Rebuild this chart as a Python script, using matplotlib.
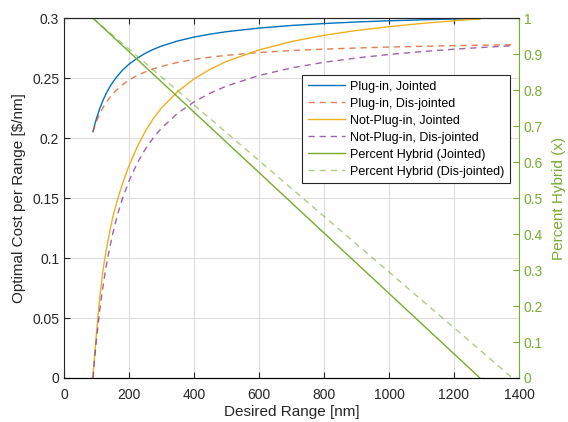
#!/usr/bin/env python3
import matplotlib
matplotlib.use("Agg")
import matplotlib.pyplot as plt

plt.rcParams['font.family'] = ['Liberation Sans', 'DejaVu Sans']

# values (desired range in nm)
rng = [89, 95, 100, 110, 120, 130, 140, 150, 165, 180, 200, 225, 250, 275, 300,
       350, 400, 450, 500, 600, 700, 800, 900, 1000, 1100, 1200, 1280]
rng_long = rng[:-1] + [1300, 1382]

plug_j = [0.2053, 0.2117, 0.2165, 0.2247, 0.2315, 0.2373, 0.2423, 0.2466, 0.2520, 0.2566,
          0.2616, 0.2666, 0.2707, 0.2740, 0.2767, 0.2810, 0.2842, 0.2867, 0.2887, 0.2917,
          0.2939, 0.2955, 0.2968, 0.2978, 0.2986, 0.2993, 0.2997]
plug_d = [0.2053, 0.2102, 0.2139, 0.2201, 0.2254, 0.2298, 0.2336, 0.2368, 0.2410, 0.2445,
          0.2483, 0.2522, 0.2552, 0.2577, 0.2598, 0.2631, 0.2656, 0.2675, 0.2690, 0.2713,
          0.2730, 0.2742, 0.2751, 0.2759, 0.2765, 0.2771, 0.2775, 0.2778]
npl_j = [0.0, 0.022, 0.038, 0.067, 0.090, 0.107, 0.121, 0.134, 0.149, 0.162,
         0.177, 0.1925, 0.2057, 0.2163, 0.2251, 0.2389, 0.2493, 0.2574, 0.2639, 0.2735,
         0.2805, 0.2857, 0.2897, 0.2929, 0.2956, 0.2978, 0.2993]
npl_d = [0.0, 0.0187, 0.0326, 0.0566, 0.0765, 0.0934, 0.1079, 0.1204, 0.1364, 0.1497,
         0.1643, 0.1790, 0.1907, 0.2003, 0.2083, 0.2208, 0.2302, 0.2375, 0.2434, 0.2522,
         0.2585, 0.2632, 0.2668, 0.2697, 0.2721, 0.2741, 0.2758, 0.2770]

hyb_j_x = [89, 1280]
hyb_j_y = [1.0, 0.0]
hyb_d_x = [89, 1380]
hyb_d_y = [1.0, 0.0]

blue, orange, yellow, purple, green = '#0072BD', '#D95319', '#EDB120', '#7E2F8E', '#77AC30'
dash = (0, (4.5, 3.5))

fig = plt.figure(figsize=(5.68, 4.22), dpi=100)
ax = fig.add_axes([0.1127, 0.1043, 0.801, 0.8527])
ax2 = ax.twinx()

l1, = ax.plot(rng, plug_j, color=blue, lw=1.0)
l2, = ax.plot(rng_long, plug_d, color=orange, lw=1.0, ls=dash, alpha=0.75)
l3, = ax.plot(rng, npl_j, color=yellow, lw=1.0)
l4, = ax.plot(rng_long, npl_d, color=purple, lw=1.0, ls=dash, alpha=0.75)
l5, = ax2.plot(hyb_j_x, hyb_j_y, color=green, lw=1.0)
l6, = ax2.plot(hyb_d_x, hyb_d_y, color=green, lw=1.0, ls=dash, alpha=0.6)

ax.set_xlim(0, 1400)
ax.set_ylim(0, 0.3)
ax2.set_ylim(0, 1)
ax.set_xticks(range(0, 1401, 200))
ax.set_yticks([0, 0.05, 0.1, 0.15, 0.2, 0.25, 0.3])
ax.set_yticklabels(['0', '0.05', '0.1', '0.15', '0.2', '0.25', '0.3'])
ax2.set_yticks([i / 10 for i in range(11)])
ax2.set_yticklabels(['0'] + ['%.1f' % (i / 10) for i in range(1, 10)] + ['1'])

ax.grid(True, color='#DCDCDC', lw=0.8)
ax.set_axisbelow(True)

ax.tick_params(direction='in', labelsize=10, colors='#262626', top=True, length=4)
ax.tick_params(axis='x', pad=7.5)
ax2.tick_params(direction='in', labelsize=10, colors=green, length=4)
for s in ['left', 'bottom', 'top']:
    ax.spines[s].set_color('#262626')
ax2.spines['right'].set_color(green)
ax2.spines['left'].set_visible(False)
ax2.spines['top'].set_color('#262626')
ax.spines['right'].set_visible(False)

ax.set_xlabel('Desired Range [nm]', fontsize=11, color='#262626', labelpad=2)
ax.set_ylabel('Optimal Cost per Range [\\$/nm]', fontsize=11, color='#262626', labelpad=4)
ax2.set_ylabel('Percent Hybrid (x)', fontsize=11, color=green, labelpad=6)

labels = ['Plug-in, Jointed', 'Plug-in, Dis-jointed', 'Not-Plug-in, Jointed',
          'Not-Plug-in, Dis-jointed', 'Percent Hybrid (Jointed)', 'Percent Hybrid (Dis-jointed)']
leg = ax2.legend([l1, l2, l3, l4, l5, l6], labels, loc='upper right',
                 bbox_to_anchor=(0.980, 0.842), fontsize=9, fancybox=False,
                 framealpha=1, edgecolor='#262626', handlelength=3.0,
                 handletextpad=0.4, borderpad=0.45, labelspacing=0.4, borderaxespad=0)
leg.get_frame().set_linewidth(0.8)

fig.savefig('out.png', dpi=100)
